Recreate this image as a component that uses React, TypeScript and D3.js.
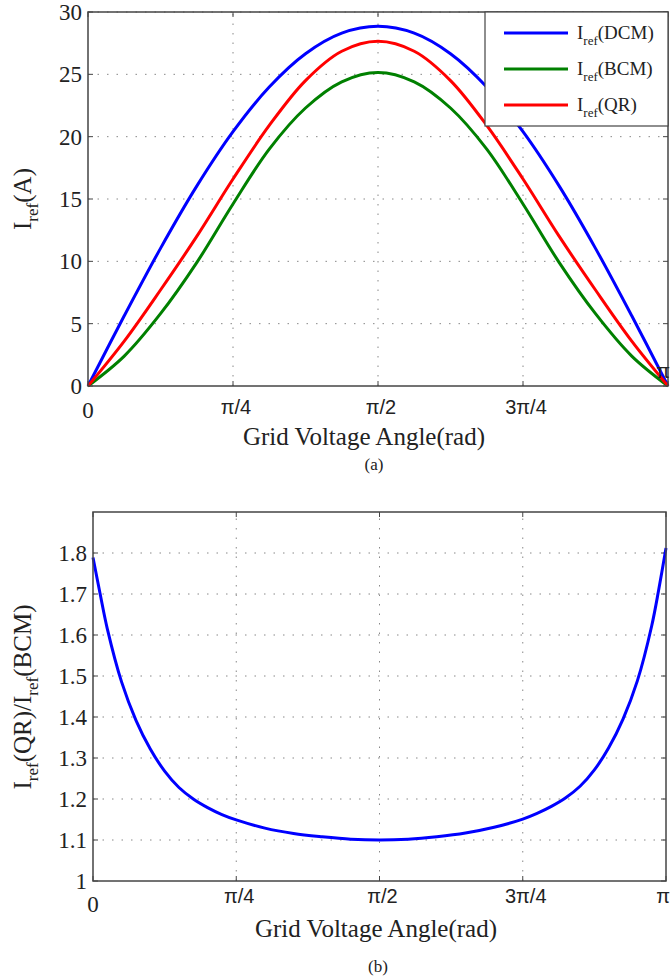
import React from "react";
import * as d3 from "d3";

// ---- data (angles given as fractions of pi) ----
const thetaTop = [0, 0.0625, 0.125, 0.1875, 0.25, 0.3125, 0.375, 0.4375, 0.5, 0.5625, 0.625, 0.6875, 0.75, 0.8125, 0.875, 0.9375, 1];
const iDCM = [0, 5.63, 11.04, 16.03, 20.4, 23.98, 26.65, 28.3, 28.85, 28.3, 26.65, 23.98, 20.4, 16.03, 11.04, 5.63, 0];
const iQR = [0, 3.6, 7.7, 12.0, 16.6, 20.9, 24.5, 26.85, 27.65, 26.85, 24.5, 20.9, 16.6, 12.0, 7.7, 3.6, 0];
const iBCM = [0, 2.4, 5.8, 9.9, 14.6, 19.0, 22.3, 24.4, 25.15, 24.4, 22.3, 19.0, 14.6, 9.9, 5.8, 2.4, 0];

const thetaRatio = [0, 0.0125, 0.025, 0.05, 0.075, 0.1, 0.125, 0.15, 0.175, 0.2, 0.225, 0.25, 0.3, 0.35, 0.4, 0.45, 0.5,
  0.55, 0.6, 0.65, 0.7, 0.75, 0.775, 0.8, 0.825, 0.85, 0.875, 0.9, 0.925, 0.95, 0.975, 0.9875, 1];
const ratio = [1.789, 1.700, 1.615, 1.485, 1.392, 1.322, 1.268, 1.228, 1.200, 1.179, 1.162, 1.149, 1.129, 1.116, 1.108, 1.102, 1.100,
  1.102, 1.108, 1.117, 1.131, 1.151, 1.165, 1.182, 1.203, 1.231, 1.271, 1.325, 1.395, 1.488, 1.622, 1.712, 1.812];

const xTickVals = [0, 0.25, 0.5, 0.75, 1];
const xTickLabels = ["0", "π/4", "π/2", "3π/4", "π"];
const yTicksTop = [0, 5, 10, 15, 20, 25, 30];
const yTicksBot = [1, 1.1, 1.2, 1.3, 1.4, 1.5, 1.6, 1.7, 1.8];

const seriesTop = [
  { name: "DCM", values: iDCM, color: "#0000ff" },
  { name: "BCM", values: iBCM, color: "#008000" },
  { name: "QR", values: iQR, color: "#ff0000" },
];

const SERIF = "Liberation Serif, Times New Roman, serif";
const SANS = "Liberation Sans, Arial, sans-serif";
const FRAME = "#444";
const GRID = "#888";
const TXT = "#222";

function Frame({ x, y, ticksX, ticksY }: any) {
  const [x0, x1] = x.range();
  const [y0, y1] = y.range();
  const tl = 5;
  return (
    <g>
      {ticksX.map((t: number, i: number) => (
        <g key={"gx" + i}>
          {t > 0 && t < 1 && (
            <line x1={x(t)} x2={x(t)} y1={y0} y2={y1} stroke={GRID} strokeWidth={1} strokeDasharray="1.5,8" />
          )}
          <line x1={x(t)} x2={x(t)} y1={y0} y2={y0 - tl} stroke={FRAME} strokeWidth={1} />
          <line x1={x(t)} x2={x(t)} y1={y1} y2={y1 + tl} stroke={FRAME} strokeWidth={1} />
        </g>
      ))}
      {ticksY.map((t: number, i: number) => (
        <g key={"gy" + i}>
          {i > 0 && (
            <line x1={x0} x2={x1} y1={y(t)} y2={y(t)} stroke={GRID} strokeWidth={1} strokeDasharray="1.5,8" />
          )}
          <line x1={x0} x2={x0 + tl} y1={y(t)} y2={y(t)} stroke={FRAME} strokeWidth={1} />
          <line x1={x1} x2={x1 - tl} y1={y(t)} y2={y(t)} stroke={FRAME} strokeWidth={1} />
        </g>
      ))}
    </g>
  );
}

export default function App() {
  // top panel
  const xT = d3.scaleLinear().domain([0, 1]).range([88, 668]);
  const yT = d3.scaleLinear().domain([0, 30]).range([386, 12]);
  // bottom panel
  const xB = d3.scaleLinear().domain([0, 1]).range([93, 666]);
  const yB = d3.scaleLinear().domain([1, 1.9]).range([881, 512]);

  const lineTop = (vals: number[]) =>
    d3.line<number>().x((_, i) => xT(thetaTop[i])).y((v) => yT(v)).curve(d3.curveCatmullRom.alpha(0.5))(vals) || "";
  const lineBot =
    d3.line<number>().x((_, i) => xB(thetaRatio[i])).y((v) => yB(v)).curve(d3.curveCatmullRom.alpha(0.5))(ratio) || "";

  return (
    <svg width={670} height={979} style={{ position: "absolute", left: 0, top: 0, background: "#fff" }}>
      <rect x={0} y={0} width={670} height={979} fill="#fff" />

      {/* ---------- top panel ---------- */}
      <Frame x={xT} y={yT} ticksX={xTickVals} ticksY={yTicksTop} />
      {seriesTop.map((s) => (
        <path key={s.name} d={lineTop(s.values)} fill="none" stroke={s.color} strokeWidth={3} />
      ))}
      <rect x={88} y={12} width={580} height={374} fill="none" stroke={FRAME} strokeWidth={1.5} />

      {yTicksTop.map((t) => (
        <text key={t} x={82} y={yT(t)} dy="0.35em" textAnchor="end" fontFamily={SERIF} fontSize={23} fill={TXT}>
          {t}
        </text>
      ))}
      {xTickVals.map((t, i) => (
        <text
          key={i}
          x={i === 4 ? 670 : xT(t) + (i === 0 ? 0 : 3)}
          y={i === 4 ? 371 : i === 0 ? 410 : 407}
          dy="0.35em"
          textAnchor={i === 4 ? "end" : "middle"}
          fontFamily={i === 0 ? SERIF : SANS}
          fontSize={i === 0 ? 23 : 20}
          fill={TXT}
        >
          {xTickLabels[i]}
        </text>
      ))}
      <text x={364} y={436} dy="0.35em" textAnchor="middle" fontFamily={SERIF} fontSize={25} fill={TXT}>
        Grid Voltage Angle(rad)
      </text>
      <text x={374} y={464} dy="0.35em" textAnchor="middle" fontFamily={SERIF} fontSize={17} fill={TXT}>
        (a)
      </text>
      <text transform="translate(31,199) rotate(-90)" textAnchor="middle" fontFamily={SERIF} fontSize={25} fill={TXT}>
        I<tspan fontSize={17} dy={7}>ref</tspan>
        <tspan dy={-7}>(A)</tspan>
      </text>

      {/* legend */}
      <rect x={485} y={12} width={183} height={114} fill="#fff" stroke={FRAME} strokeWidth={1.2} />
      {seriesTop.map((s, i) => (
        <g key={"lg" + s.name}>
          <line x1={504} x2={568} y1={33 + i * 36} y2={33 + i * 36} stroke={s.color} strokeWidth={3} />
          <text x={577} y={33 + i * 36} dy="0.3em" fontFamily={SERIF} fontSize={19} fill={TXT}>
            I<tspan fontSize={13} dy={6}>ref</tspan>
            <tspan dy={-6}>({s.name})</tspan>
          </text>
        </g>
      ))}

      {/* ---------- bottom panel ---------- */}
      <Frame x={xB} y={yB} ticksX={xTickVals} ticksY={yTicksBot} />
      <path d={lineBot} fill="none" stroke="#0000ff" strokeWidth={3} />
      <rect x={93} y={512} width={573} height={369} fill="none" stroke={FRAME} strokeWidth={1.5} />

      {yTicksBot.map((t) => (
        <text key={t} x={87} y={yB(t)} dy="0.35em" textAnchor="end" fontFamily={SERIF} fontSize={23} fill={TXT}>
          {t === 1 ? "1" : t.toFixed(1)}
        </text>
      ))}
      {xTickVals.map((t, i) => (
        <text
          key={"b" + i}
          x={i === 4 ? 670 : xB(t) + (i === 0 ? 0 : 3)}
          y={i === 0 ? 904 : 896}
          dy="0.35em"
          textAnchor={i === 4 ? "end" : "middle"}
          fontFamily={i === 0 ? SERIF : SANS}
          fontSize={i === 0 ? 23 : 20}
          fill={TXT}
        >
          {xTickLabels[i]}
        </text>
      ))}
      <text x={376} y={928} dy="0.35em" textAnchor="middle" fontFamily={SERIF} fontSize={25} fill={TXT}>
        Grid Voltage Angle(rad)
      </text>
      <text x={378} y={966} dy="0.35em" textAnchor="middle" fontFamily={SERIF} fontSize={17} fill={TXT}>
        (b)
      </text>
      <text transform="translate(31,697) rotate(-90)" textAnchor="middle" fontFamily={SERIF} fontSize={25} fill={TXT}>
        I<tspan fontSize={17} dy={7}>ref</tspan>
        <tspan dy={-7}>(QR)/I</tspan>
        <tspan fontSize={17} dy={7}>ref</tspan>
        <tspan dy={-7}>(BCM)</tspan>
      </text>
    </svg>
  );
}
